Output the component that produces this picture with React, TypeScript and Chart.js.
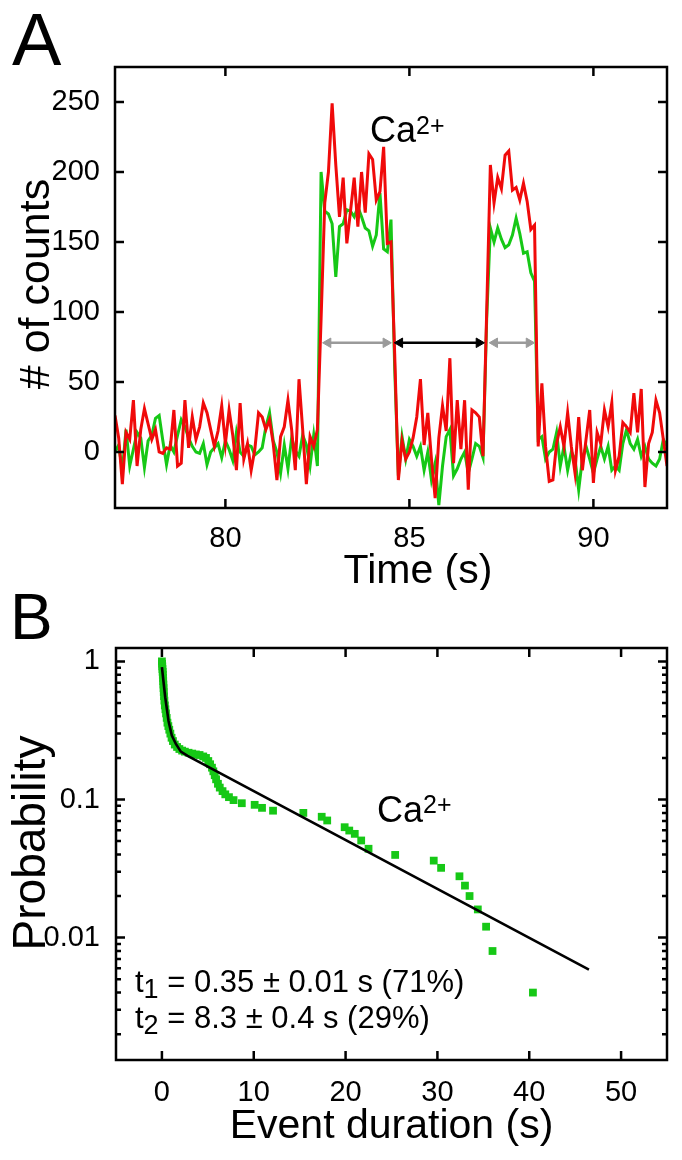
import { useEffect, useRef } from "react"
import { Chart, registerables } from "chart.js"
import type { Plugin } from "chart.js"

Chart.register(...registerables)

const FONT = "'Liberation Sans', Arial, sans-serif"
const RED = "#f00a0a"
const GREEN = "#16c816"
const GREY = "#9a9a9a"

// Panel A: counts per 0.1 s bin, starting at 77.0 s
const TRACE_START = 77
const TRACE_STEP = 0.1
const redCounts = [
  26, 10, -23, 14, 9, 37, -10, 16, 31, 20, // 77 s
  9, 16, 0, -1, 3, 2, 30, -10, -8, 37, // 78 s
  3, 25, 9, 18, 35, 28, 16, 4, 15, 33, // 79 s
  6, 30, 12, -13, 35, -5, 6, -13, 2, 28, // 80 s
  25, 16, 23, 6, -20, 11, 18, 37, 16, -13, // 81 s
  52, 16, -23, 11, 4, 16, 95, 178, 200, 249, // 82 s
  205, 168, 196, 149, 172, 196, 161, 200, 171, 213, // 83 s
  209, 180, 186, 218, 149, 150, 70, -20, 8, -5, // 84 s
  0, 10, 25, 52, 5, 28, -5, -33, 10, 33, // 85 s
  15, 67, -8, 37, 2, 37, -27, 30, 28, 25, // 86 s
  -3, 100, 205, 178, 196, 188, 212, 215, 187, 189, // 87 s
  180, 192, 179, 159, 162, 4, 49, 4, -21, -20, // 88 s
  6, 18, 4, 28, 4, -15, 25, -13, 9, 30, // 89 s
  -22, 14, 6, 30, 18, 35, -13, -3, 21, 18, // 90 s
  14, 42, 14, 45, -25, 6, 14, 37, 28, 9, // 91 s
  -10, // 92 s
]
const greenCounts = [
  0, 5, -13, 16, -10, 2, 14, 10, -11, 8,
  12, 24, 26, 8, -9, 5, 0, 12, 23, 18,
  10, 4, 0, -1, 6, -9, 0, 3, 6, -4,
  8, 2, -6, 14, 0, -3, 5, 4, -2, 0,
  3, 18, 28, 8, 0, -15, 5, -12, 10, 1,
  -3, 12, 5, -10, 12, -10, 200, 172, 170, 163,
  125, 161, 163, 173, 172, 168, 175, 168, 160, 158,
  147, 155, 185, 145, 143, 166, 60, -17, 11, -5,
  9, 4, -3, 4, -13, 0, -20, -8, -38, -10,
  11, 16, -17, -12, -5, 0, -15, -5, 6, 4,
  -4, 95, 160, 150, 160, 152, 146, 148, 155, 167,
  156, 142, 143, 128, 122, 9, 11, -5, 0, 2,
  14, -10, 4, -13, 0, -5, -27, -5, 4, -5,
  -15, -5, 4, -5, 4, -13, -10, -13, 6, 16,
  6, 2, 9, -3, 4, -5, -8, -10, -5, 9,
  4,
]
const traceXTicks = [80, 85, 90]
const traceYTicks = [0, 50, 100, 150, 200, 250]

// dwell-time arrows (arrowhead centres), grey / black / grey
const arrowLevel = 78
const arrowStarts = [82.79, 84.74, 87.32]
const arrowEnds = [84.36, 86.89, 88.25]

// Panel B: survival probability of event durations
const durations = [
  0.0, 0.02, 0.04, 0.06, 0.08, 0.1, 0.12, 0.14, 0.16, 0.18, 0.2, 0.23, 0.27, 0.32,
  0.38, 0.45, 0.52, 0.6, 0.7, 0.8, 0.92, 1.05, 1.2, 1.4, 1.65, 1.9, 2.2, 2.5, 2.9,
  3.3, 3.7, 4.1, 4.5, 4.8, 5.05, 5.25, 5.45, 5.6, 5.75, 5.9, 6.1, 6.3, 6.6, 6.9, 7.3,
  7.8, 8.7, 10.1, 10.9, 12.1, 15.4, 17.4, 18.0, 19.9, 20.4, 21.0, 21.7, 22.5, 25.4,
  29.6, 30.4, 32.4, 33.0, 33.5, 34.4, 35.3, 36.0, 40.4,
]
const probabilities = [
  1.0, 0.96, 0.92, 0.88, 0.84, 0.8, 0.76, 0.72, 0.68, 0.64, 0.6, 0.56, 0.52, 0.48,
  0.45, 0.42, 0.39, 0.36, 0.34, 0.32, 0.3, 0.28, 0.265, 0.25, 0.24, 0.232, 0.226, 0.222, 0.218,
  0.215, 0.212, 0.21, 0.205, 0.2, 0.19, 0.18, 0.17, 0.16, 0.15, 0.14, 0.13, 0.122, 0.115, 0.109, 0.104,
  0.099, 0.094, 0.0915, 0.087, 0.083, 0.08, 0.075, 0.0705, 0.063, 0.0596, 0.0564, 0.0505, 0.044, 0.0397,
  0.0361, 0.032, 0.0278, 0.0238, 0.02, 0.016, 0.012, 0.008, 0.004,
]
const fitDurations = [0, 0.36, 0.72, 1.08, 1.52, 2.06, 2.8, 46.5]
const fitProbabilities = [0.91, 0.55, 0.37, 0.29, 0.253, 0.222, 0.207, 0.00586]
const durXTicks = [0, 10, 20, 30, 40, 50]
const probYTicks = [0.01, 0.1, 1]

type Run = { t: string; size: number; dy?: number }
type Label = { runs: Run[]; x: number; y: number; center?: boolean; rotate?: boolean }

// closed box with inward ticks on all four sides
function framePlugin(xMajor: number[], yMajor: number[], yMinor: number[] = []): Plugin {
  return {
    id: "frame",
    afterDraw(chart) {
      const { ctx, chartArea: a, scales } = chart
      ctx.save()
      ctx.strokeStyle = "#000"
      ctx.lineWidth = 2.5
      ctx.strokeRect(a.left, a.top, a.right - a.left, a.bottom - a.top)
      ctx.beginPath()
      xMajor.forEach((v) => {
        const px = scales.x.getPixelForValue(v)
        ctx.moveTo(px, a.bottom)
        ctx.lineTo(px, a.bottom - 9)
        ctx.moveTo(px, a.top)
        ctx.lineTo(px, a.top + 9)
      })
      const yTick = (v: number, len: number) => {
        const py = scales.y.getPixelForValue(v)
        ctx.moveTo(a.left, py)
        ctx.lineTo(a.left + len, py)
        ctx.moveTo(a.right, py)
        ctx.lineTo(a.right - len, py)
      }
      yMajor.forEach((v) => yTick(v, 9))
      yMinor.forEach((v) => yTick(v, 5))
      ctx.stroke()
      ctx.restore()
    },
  }
}

function labelPlugin(items: Label[]): Plugin {
  return {
    id: "labels",
    afterDraw(chart) {
      const { ctx } = chart
      items.forEach((item) => {
        ctx.save()
        ctx.fillStyle = "#000"
        ctx.textAlign = "left"
        ctx.textBaseline = "alphabetic"
        ctx.translate(item.x, item.y)
        if (item.rotate) ctx.rotate(-Math.PI / 2)
        const widths = item.runs.map((r) => {
          ctx.font = `${r.size}px ${FONT}`
          return ctx.measureText(r.t).width
        })
        let x = item.center ? -widths.reduce((s, w) => s + w, 0) / 2 : 0
        item.runs.forEach((r, i) => {
          ctx.font = `${r.size}px ${FONT}`
          ctx.fillText(r.t, x, r.dy ?? 0)
          x += widths[i]
        })
        ctx.restore()
      })
    },
  }
}

const tickFont = { family: FONT, size: 29 }

function TracePanel() {
  const chartRef = useRef<HTMLCanvasElement>(null)
  const chartInstance = useRef<Chart | null>(null)

  useEffect(() => {
    if (!chartRef.current) return
    if (chartInstance.current) chartInstance.current.destroy()

    const times = redCounts.map((_, i) => TRACE_START + i * TRACE_STEP)

    const arrows = arrowStarts.map((start, i) => {
      const color = i === 1 ? "#000" : GREY
      return {
        data: [
          { x: start, y: arrowLevel },
          { x: arrowEnds[i], y: arrowLevel },
        ],
        borderColor: color,
        borderWidth: 2.5,
        pointStyle: "triangle" as const,
        pointRadius: 5.5,
        pointRotation: [-90, 90],
        pointBackgroundColor: color,
        pointBorderColor: color,
        pointBorderWidth: 1,
        order: 0,
      }
    })

    chartInstance.current = new Chart(chartRef.current, {
      type: "line",
      data: {
        datasets: [
          ...arrows,
          {
            label: "red",
            data: times.map((x, i) => ({ x, y: redCounts[i] })),
            borderColor: RED,
            borderWidth: 3,
            pointRadius: 0,
            order: 1,
          },
          {
            label: "green",
            data: times.map((x, i) => ({ x, y: greenCounts[i] })),
            borderColor: GREEN,
            borderWidth: 3,
            pointRadius: 0,
            order: 2,
          },
        ],
      },
      options: {
        animation: false,
        responsive: false,
        layout: { padding: { top: 67, right: 15, left: 0, bottom: 0 } },
        plugins: { legend: { display: false }, tooltip: { enabled: false } },
        scales: {
          x: {
            type: "linear",
            min: 77,
            max: 92,
            afterBuildTicks: (s) => {
              s.ticks = traceXTicks.map((value) => ({ value }))
            },
            afterFit: (s) => {
              s.height = 82
            },
            grid: { display: false },
            border: { display: false },
            ticks: { font: tickFont, color: "#000", padding: 6, maxRotation: 0, autoSkip: false },
          },
          y: {
            type: "linear",
            min: -40,
            max: 275,
            afterBuildTicks: (s) => {
              s.ticks = traceYTicks.map((value) => ({ value }))
            },
            afterFit: (s) => {
              s.width = 115
            },
            grid: { display: false },
            border: { display: false },
            ticks: { font: tickFont, color: "#000", padding: 7, autoSkip: false },
          },
        },
      },
      plugins: [
        framePlugin(traceXTicks, traceYTicks),
        labelPlugin([
          { runs: [{ t: "A", size: 74 }], x: 12, y: 65 },
          { runs: [{ t: "Ca", size: 36 }, { t: "2+", size: 25, dy: -8 }], x: 370, y: 142 },
          { runs: [{ t: "Time (s)", size: 41 }], x: 418, y: 583, center: true },
          { runs: [{ t: "# of counts", size: 43 }], x: 49, y: 284, center: true, rotate: true },
        ]),
      ],
    })

    return () => {
      if (chartInstance.current) {
        chartInstance.current.destroy()
        chartInstance.current = null
      }
    }
  }, [])

  return (
    <canvas
      ref={chartRef}
      width={682}
      height={590}
      style={{ position: "absolute", left: 0, top: 0, display: "block" }}
    />
  )
}

function DurationPanel() {
  const chartRef = useRef<HTMLCanvasElement>(null)
  const chartInstance = useRef<Chart | null>(null)

  useEffect(() => {
    if (!chartRef.current) return
    if (chartInstance.current) chartInstance.current.destroy()

    // minor log ticks 2..9 in each decade
    const minorTicks: number[] = []
    ;[0.001, 0.01, 0.1].forEach((d) => {
      for (let m = 2; m <= 9; m++) {
        const v = m * d
        if (v >= 0.0013 && v <= 1.25) minorTicks.push(v)
      }
    })

    chartInstance.current = new Chart(chartRef.current, {
      type: "scatter",
      data: {
        datasets: [
          {
            label: "fit",
            data: fitDurations.map((x, i) => ({ x, y: fitProbabilities[i] })),
            showLine: true,
            borderColor: "#000",
            borderWidth: 2.6,
            pointRadius: 0,
            order: 0,
          },
          {
            label: "Ca2+",
            data: durations.map((x, i) => ({ x, y: probabilities[i] })),
            pointStyle: "rect",
            pointRadius: 5.5,
            pointBackgroundColor: GREEN,
            pointBorderColor: GREEN,
            pointBorderWidth: 0,
            backgroundColor: GREEN,
            borderColor: GREEN,
            order: 1,
          },
        ],
      },
      options: {
        animation: false,
        responsive: false,
        layout: { padding: { top: 58, right: 15, left: 0, bottom: 0 } },
        plugins: { legend: { display: false }, tooltip: { enabled: false } },
        scales: {
          x: {
            type: "linear",
            min: -5,
            max: 55,
            afterBuildTicks: (s) => {
              s.ticks = durXTicks.map((value) => ({ value }))
            },
            afterFit: (s) => {
              s.height = 100
            },
            grid: { display: false },
            border: { display: false },
            ticks: { font: tickFont, color: "#000", padding: 8, maxRotation: 0, autoSkip: false },
          },
          y: {
            type: "logarithmic",
            min: 0.0013,
            max: 1.25,
            afterBuildTicks: (s) => {
              s.ticks = probYTicks.map((value) => ({ value }))
            },
            afterFit: (s) => {
              s.width = 116
            },
            grid: { display: false },
            border: { display: false },
            ticks: {
              font: tickFont,
              color: "#000",
              padding: 8,
              autoSkip: false,
              callback: (v) => String(v),
            },
          },
        },
      },
      plugins: [
        framePlugin(durXTicks, probYTicks, minorTicks),
        labelPlugin([
          { runs: [{ t: "B", size: 64 }], x: 10, y: 49 },
          { runs: [{ t: "Ca", size: 36 }, { t: "2+", size: 25, dy: -9 }], x: 377, y: 232 },
          {
            runs: [{ t: "t", size: 31 }, { t: "1", size: 27, dy: 6 }, { t: " = 0.35 ± 0.01 s (71%)", size: 31 }],
            x: 135,
            y: 402,
          },
          {
            runs: [{ t: "t", size: 31 }, { t: "2", size: 27, dy: 6 }, { t: " = 8.3 ± 0.4 s (29%)", size: 31 }],
            x: 135,
            y: 438,
          },
          { runs: [{ t: "Event duration (s)", size: 41 }], x: 391.5, y: 548, center: true },
          { runs: [{ t: "Probability", size: 46 }], x: 45, y: 253, center: true, rotate: true },
        ]),
      ],
    })

    return () => {
      if (chartInstance.current) {
        chartInstance.current.destroy()
        chartInstance.current = null
      }
    }
  }, [])

  return (
    <canvas
      ref={chartRef}
      width={682}
      height={570}
      style={{ position: "absolute", left: 0, top: 590, display: "block" }}
    />
  )
}

export default function App() {
  return (
    <div style={{ position: "absolute", left: 0, top: 0, width: 682, height: 1160, background: "#fff" }}>
      <TracePanel />
      <DurationPanel />
    </div>
  )
}
